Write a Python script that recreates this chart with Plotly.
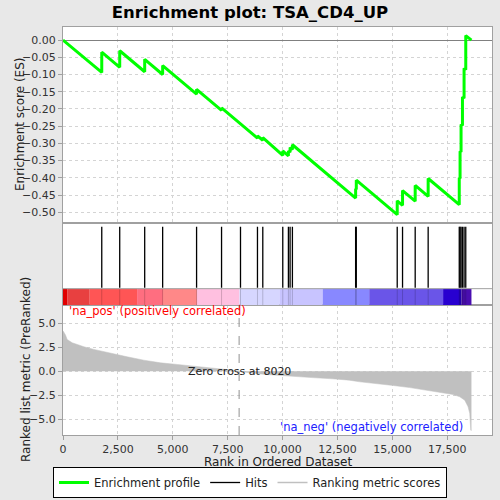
import plotly.graph_objects as go

# ---- data ----
n_genes = 18600
zero_cross = 8020

hit_ranks = [1765, 2583, 3720, 4538, 6083, 7220, 8083, 8856, 9098, 10008,
             10265, 10341, 10447, 13326, 13356, 15220, 15462, 16038, 16629,
             18045, 18082, 18127, 18191, 18264, 18341]
es_before = [-0.094, -0.079, -0.092, -0.100, -0.157, -0.204, -0.243, -0.285, -0.291, -0.335,
             -0.336, -0.326, -0.318, -0.459, -0.434, -0.507, -0.480, -0.468, -0.454,
             -0.478, -0.402, -0.325, -0.248, -0.169, -0.086]
es_after = [-0.035, -0.031, -0.056, -0.074, -0.143, -0.197, -0.243, -0.278, -0.283, -0.322,
            -0.322, -0.312, -0.304, -0.432, -0.407, -0.467, -0.437, -0.422, -0.402,
            -0.400, -0.323, -0.245, -0.165, -0.082, 0.013]

metric_ranks = [0, 114, 190, 265, 420, 650, 950, 1410, 2170, 2920, 3680, 4440, 5200,
                5960, 6970, 7730, 8020, 8480, 9240, 10000, 10760, 11520, 12270, 13030,
                13523, 14280, 15038, 15795, 16553, 17310, 17764, 18068, 18295, 18447,
                18523, 18568, 18600]
metric_vals = [4.22, 3.77, 3.31, 3.17, 2.96, 2.79, 2.55, 2.27, 1.85, 1.5, 1.15, 0.87, 0.70,
               0.52, 0.33, 0.1, 0.0, -0.17, -0.35, -0.49, -0.6, -0.7, -0.8, -0.94,
               -1.12, -1.29, -1.5, -1.72, -1.97, -2.22, -2.44, -2.68, -3.03, -3.73,
               -4.43, -6.17, -6.2]

band_edges = [0, 190, 1218, 3373, 4555, 6100, 8036, 9855, 11827, 13945, 17309, 18145, 18600]
band_colors = ["#e00000", "#e84040", "#ff5555", "#ff6e80", "#ff8888", "#ffc0e0",
               "#d6d6ff", "#c8c4ff", "#8888ff", "#6a55e8", "#2800d0", "#4a0eb0"]

# ---- build traces ----
es_x, es_y = [0], [0.0]
for r, b, a in zip(hit_ranks, es_before, es_after):
    es_x += [r, r]
    es_y += [b, a]
es_x.append(n_genes)
es_y.append(0.0)

hx, hy, hx2, hy2 = [], [], [], []
for r in hit_ranks:
    hx += [r, r, None]
    hy += [0.212, 0.958, None]
    hx2 += [r, r, None]
    hy2 += [0.0, 0.2, None]

mids = [(band_edges[i] + band_edges[i + 1]) / 2 for i in range(len(band_colors))]
widths = [band_edges[i + 1] - band_edges[i] for i in range(len(band_colors))]

fig = go.Figure()
fig.add_trace(go.Scatter(x=es_x, y=es_y, mode="lines", xaxis="x2", yaxis="y",
                         line=dict(color="#00ff00", width=3), name="Enrichment profile"))
fig.add_trace(go.Bar(x=mids, y=[0.2] * len(mids), width=widths, xaxis="x3", yaxis="y2",
                     marker=dict(color=band_colors, line=dict(width=0)), showlegend=False))
fig.add_trace(go.Scatter(x=hx2, y=hy2, mode="lines", xaxis="x3", yaxis="y2",
                         line=dict(color="rgba(0,0,0,0.18)", width=1), showlegend=False))
fig.add_trace(go.Scatter(x=hx, y=hy, mode="lines", xaxis="x3", yaxis="y2",
                         line=dict(color="black", width=1.3), name="Hits"))
fig.add_trace(go.Scatter(x=metric_ranks, y=metric_vals, mode="lines", xaxis="x", yaxis="y3",
                         fill="tozeroy", fillcolor="#c0c0c0", line=dict(color="#c0c0c0", width=0.5),
                         showlegend=False))
fig.add_trace(go.Scatter(x=[None], y=[None], mode="lines", xaxis="x", yaxis="y3",
                         line=dict(color="#c0c0c0", width=1.5), name="Ranking metric scores"))

grid = dict(showgrid=True, gridcolor="#d4d4d4", griddash="dot", gridwidth=1)
frame = dict(showline=True, linecolor="#a0a0a0", linewidth=1, mirror=True)
xr = [0, 19536]
xt = [0, 2500, 5000, 7500, 10000, 12500, 15000, 17500]

fig.update_layout(
    width=500, height=500,
    margin=dict(l=63, r=8, t=27, b=65, autoexpand=False),
    paper_bgcolor="#e8e8e8", plot_bgcolor="white",
    font=dict(family="DejaVu Sans", size=11, color="#333333"),
    title=dict(text="<b>Enrichment plot: TSA_CD4_UP</b>", x=0.5, xref="container",
               y=0.976, yref="container", yanchor="middle",
               font=dict(size=16.5, color="black")),
    barmode="overlay",
    xaxis=dict(range=xr, domain=[0, 1], anchor="y3", tickvals=xt,
               tickformat=",d", ticks="outside", ticklen=4, tickcolor="#a0a0a0",
               zeroline=False, **grid, **frame),
    xaxis2=dict(range=xr, domain=[0, 1], anchor="y", matches="x", showticklabels=False,
                zeroline=False, tickvals=xt, **grid, **frame),
    xaxis3=dict(range=xr, domain=[0, 1], anchor="y2", matches="x", showticklabels=False,
                showgrid=False, zeroline=False, **frame),
    yaxis=dict(domain=[0.519, 1], range=[-0.532, 0.038], dtick=0.05, tickformat=".2f",
               ticks="outside", ticklen=4, tickcolor="#a0a0a0",
               zeroline=True, zerolinecolor="#808080", zerolinewidth=1, **grid, **frame),
    yaxis2=dict(domain=[0.3186, 0.519], range=[0, 1], showticklabels=False, showgrid=False,
                zeroline=False, **frame),
    yaxis3=dict(domain=[0, 0.3186], range=[-6.67, 6.91], tickvals=[-5, -2.5, 0, 2.5, 5],
                tickformat=".1f", ticks="outside", ticklen=4, tickcolor="#a0a0a0",
                zeroline=False, **grid, **frame),
    legend=dict(orientation="h", xref="container", yref="container", x=0.5, y=0.004,
                xanchor="center", yanchor="bottom", bgcolor="white", bordercolor="black",
                borderwidth=1, font=dict(size=11.5, color="#222222"), itemwidth=30),
    shapes=[
        dict(type="line", xref="paper", yref="y2", x0=0, x1=1, y0=0.2, y1=0.2,
             line=dict(color="#a0a0a0", width=1)),
        dict(type="line", xref="x", yref="y3 domain", x0=zero_cross, x1=zero_cross, y0=0, y1=1,
             line=dict(color="#909090", width=1, dash="dash")),
    ],
    annotations=[
        dict(text="Rank in Ordered Dataset", xref="paper", yref="paper", x=0.5, y=-0.067,
             xanchor="center", yanchor="middle", showarrow=False,
             font=dict(size=12, color="#222222")),
        dict(text="Enrichment score (ES)", xref="paper", yref="paper", x=-0.1, y=0.76,
             xanchor="center", yanchor="middle",
             textangle=-90, showarrow=False, font=dict(size=12, color="#222222")),
        dict(text="Ranked list metric (PreRanked)", xref="paper", yref="paper", x=-0.088, y=0.16,
             xanchor="center", yanchor="middle",
             textangle=-90, showarrow=False, font=dict(size=12, color="#222222")),
        dict(text="'na_pos' (positively correlated)", xref="x", yref="y3", x=190, y=6.3,
             xanchor="left", showarrow=False, font=dict(size=11.5, color="#ff0000")),
        dict(text="'na_neg' (negatively correlated)", xref="x", yref="y3", x=9800, y=-5.82,
             xanchor="left", showarrow=False, font=dict(size=11.5, color="#2020ff")),
        dict(text="Zero cross at " + str(zero_cross), xref="x", yref="y3", x=zero_cross, y=0,
             showarrow=False, font=dict(size=11, color="#222222")),
    ],
)

# page body has a default 8px margin; drop it so the 500x500 figure fills the window
fig.write_html("out.html", config={"displayModeBar": False},
               post_script="document.body.style.margin='0';")
